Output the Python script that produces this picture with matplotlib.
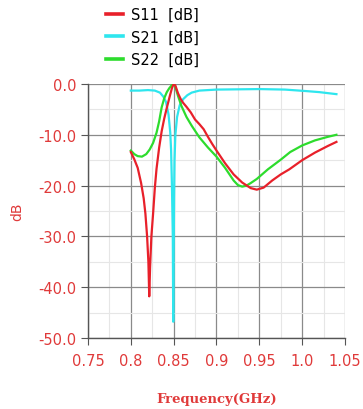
import matplotlib.pyplot as plt
from matplotlib.ticker import MultipleLocator

# S-parameter sweeps (GHz, dB)
s11_freq = [0.800, 0.804, 0.808, 0.812, 0.815, 0.817, 0.819, 0.8205, 0.8215,
            0.8225, 0.824, 0.826, 0.828, 0.830, 0.833, 0.836, 0.839, 0.842,
            0.845, 0.848, 0.850, 0.852, 0.855, 0.858, 0.861, 0.865, 0.870,
            0.875, 0.880, 0.885, 0.890, 0.895, 0.900, 0.910, 0.920, 0.930,
            0.940, 0.947, 0.955, 0.965, 0.975, 0.985, 1.000, 1.015, 1.030,
            1.040]
s11_db = [-13.4, -14.8, -16.5, -19.5, -22.5, -25.5, -30.0, -35.0, -41.8,
          -36.0, -30.0, -25.5, -20.5, -16.7, -12.6, -9.3, -6.8, -4.7,
          -2.7, -0.8, 0.0, -0.3, -1.8, -2.9, -3.7, -4.5, -5.6,
          -7.0, -7.9, -8.9, -10.4, -11.8, -13.1, -15.6, -17.8, -19.4,
          -20.5, -20.8, -20.4, -19.0, -17.8, -16.8, -15.0, -13.5, -12.2,
          -11.4]

s21_freq = [0.800, 0.810, 0.820, 0.828, 0.834, 0.838, 0.841, 0.844, 0.846,
            0.847, 0.848, 0.849, 0.8495, 0.850, 0.8505, 0.851, 0.852, 0.854,
            0.857, 0.861, 0.866, 0.871, 0.880, 0.900, 0.950, 0.980, 1.005,
            1.020, 1.040]
s21_db = [-1.3, -1.3, -1.2, -1.3, -1.7, -2.5, -3.5, -6.0, -9.5,
          -13.0, -20.0, -30.0, -46.8, -34.0, -22.0, -15.0, -10.0, -6.5,
          -4.2, -3.0, -2.2, -1.7, -1.3, -1.1, -1.0, -1.1, -1.4,
          -1.6, -2.0]

s22_freq = [0.800, 0.804, 0.808, 0.813, 0.818, 0.822, 0.826, 0.830, 0.833,
            0.836, 0.839, 0.842, 0.845, 0.848, 0.850, 0.852, 0.855, 0.859,
            0.865, 0.871, 0.880, 0.890, 0.900, 0.910, 0.920, 0.925, 0.930,
            0.935, 0.940, 0.947, 0.960, 0.975, 0.986, 1.000, 1.015, 1.030,
            1.040]
s22_db = [-13.1, -13.8, -14.2, -14.3, -13.8, -12.9, -11.6, -9.6, -7.4,
          -4.6, -2.8, -1.6, -0.8, -0.2, 0.0, -0.6, -2.3, -4.3,
          -6.5, -8.2, -10.5, -12.5, -14.3, -16.5, -19.0, -19.9, -20.2,
          -20.0, -19.5, -18.7, -16.8, -14.9, -13.4, -12.1, -11.1, -10.4,
          -10.0]

x_ticks = [0.75, 0.8, 0.85, 0.9, 0.95, 1.0, 1.05]
x_tick_labels = ['0.75', '0.8', '0.85', '0.9', '0.95', '1.0', '1.05']

RED = '#e8202a'
LABEL_RED = '#e03a3a'

fig = plt.figure(figsize=(3.63, 4.10), dpi=100)
ax = fig.add_axes([0.2424, 0.1732, 0.708, 0.6195])

l11, = ax.plot(s11_freq, s11_db, color=RED, lw=1.6, label='S11  [dB]', zorder=4)
l21, = ax.plot(s21_freq, s21_db, color='#2ee6ee', lw=1.6, label='S21  [dB]', zorder=3)
l22, = ax.plot(s22_freq, s22_db, color='#2ddc2d', lw=1.6, label='S22  [dB]', zorder=3)

ax.set_xlim(0.75, 1.05)
ax.set_ylim(-50, 0)
ax.set_xticks(x_ticks)
ax.set_xticklabels(x_tick_labels)
ax.yaxis.set_major_locator(MultipleLocator(10))
ax.yaxis.set_major_formatter(plt.FuncFormatter(lambda v, p: f'{v:.1f}'))
ax.xaxis.set_minor_locator(MultipleLocator(0.025))
ax.yaxis.set_minor_locator(MultipleLocator(5))

ax.grid(which='major', color='#8a8a8a', lw=0.9)
ax.grid(which='minor', color='#e6e6e6', lw=0.8)
ax.set_axisbelow(True)

for side in ['top', 'right']:
    ax.spines[side].set_visible(False)
for side in ['left', 'bottom']:
    ax.spines[side].set_color('#555555')
    ax.spines[side].set_linewidth(1.0)

ax.tick_params(which='major', length=5, color='#555555', labelcolor=LABEL_RED,
               labelsize=10.5)
ax.tick_params(which='minor', length=0)
ax.tick_params(axis='x', pad=6)

ax.set_ylabel('dB', color=LABEL_RED, fontsize=10, labelpad=10)
ax.set_xlabel('Frequency(GHz)', color=LABEL_RED, fontsize=9.5,
              family='DejaVu Serif', fontweight='bold', labelpad=17)

fig.legend(handles=[l11, l21, l22], loc='upper left',
           bbox_to_anchor=(0.255, 1.012), frameon=False, fontsize=10.5,
           handlelength=1.2, handletextpad=0.55, labelspacing=0.5)
for line in fig.legends[0].get_lines():
    line.set_linewidth(2.6)

fig.savefig('out.png', dpi=100)
